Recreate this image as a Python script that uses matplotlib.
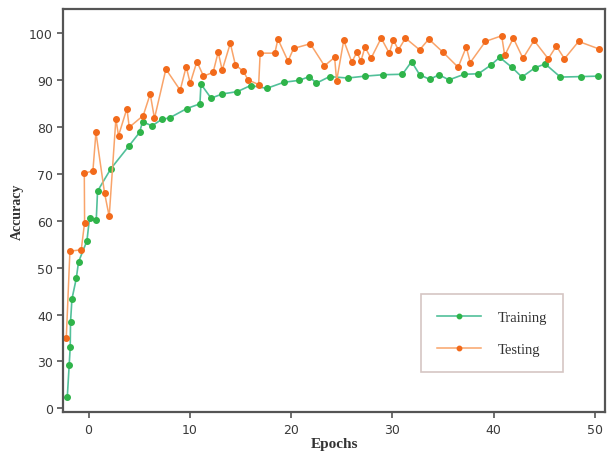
import matplotlib
matplotlib.use("Agg")
import matplotlib.pyplot as plt

# Training accuracy (green)
train_x = [-2.10, -1.91, -1.81, -1.78, -1.64, -1.21, -0.99, -0.16, 0.10, 0.76,
           0.89, 2.21, 4.02, 5.04, 5.33, 6.26, 7.24, 8.0, 9.71, 11.0,
           11.1, 12.1, 13.2, 14.7, 16.0, 17.6, 19.3, 20.8, 21.8, 22.5,
           23.8, 25.6, 27.3, 29.1, 31.0, 31.9, 32.7, 33.7, 34.6, 35.6,
           37.1, 38.5, 39.7, 40.6, 41.8, 42.8, 44.1, 45.1, 46.6, 48.6, 50.3]
train_y = [22.4, 29.3, 33.1, 38.4, 43.3, 47.7, 51.2, 55.7, 60.6, 60.1,
           66.3, 71.1, 76.0, 78.8, 81.1, 80.2, 81.6, 81.9, 83.9, 84.9,
           89.1, 86.1, 87.0, 87.5, 88.8, 88.2, 89.5, 89.9, 90.7, 89.3,
           90.7, 90.4, 90.8, 91.1, 91.2, 93.9, 91.1, 90.1, 91.1, 90.0,
           91.2, 91.3, 93.1, 94.8, 92.7, 90.6, 92.6, 93.4, 90.6, 90.7, 90.8]

# Testing accuracy (orange)
test_x = [-2.20, -1.84, -0.72, -0.39, -0.42, 0.43, 0.73, 1.58, 2.04, 2.70,
          2.96, 3.79, 4.02, 5.40, 6.09, 6.51, 7.64, 9.05, 9.64, 10.04,
          10.7, 11.35, 12.3, 12.8, 13.2, 14.0, 14.5, 15.3, 15.75, 16.8,
          16.95, 18.4, 18.7, 19.7, 20.25, 21.9, 23.3, 24.3, 24.5, 25.2,
          26.0, 26.5, 26.9, 27.3, 27.9, 28.9, 29.7, 30.1, 30.6, 31.3,
          32.7, 33.6, 35.0, 36.5, 37.3, 37.7, 39.2, 40.8, 41.1, 41.95,
          42.9, 44.0, 45.4, 46.2, 47.0, 48.4, 50.4]
test_y = [34.9, 53.5, 53.8, 59.6, 70.1, 70.6, 78.8, 65.9, 60.9, 81.7,
          78.1, 83.9, 79.9, 82.4, 87.0, 81.8, 92.3, 87.8, 92.8, 89.3,
          93.9, 90.8, 91.6, 95.9, 92.1, 97.8, 93.2, 91.8, 90.0, 89.0,
          95.7, 95.7, 98.7, 94.0, 96.7, 97.7, 93.0, 94.8, 89.8, 98.4,
          93.8, 95.9, 94.0, 97.0, 94.6, 98.9, 95.7, 98.5, 96.4, 98.9,
          96.4, 98.7, 95.9, 92.7, 97.0, 93.7, 98.2, 99.4, 95.2, 98.9,
          94.6, 98.4, 94.5, 97.2, 94.5, 98.2, 96.6]

# axis ticks as printed in the figure
x_ticks = [0, 10, 20, 30, 40, 50]
y_ticks = [20, 30, 40, 50, 60, 70, 80, 90, 100]
y_tick_labels = ["0", "30", "40", "50", "60", "70", "80", "90", "100"]

fig = plt.figure(figsize=(6.08, 4.56), dpi=100)
ax = fig.add_axes([0.104, 0.094, 0.891, 0.884])

ax.plot(train_x, train_y, color="#52c09a", linewidth=1.2,
        marker="o", markersize=4, markerfacecolor="#2fb44a",
        markeredgecolor="#2fb44a", label="Training")
ax.plot(test_x, test_y, color="#f9a46a", linewidth=1.1,
        marker="o", markersize=4, markerfacecolor="#f26a1b",
        markeredgecolor="#f26a1b", label="Testing")

ax.set_xlim(-2.5, 51.0)
ax.set_ylim(19.2, 105.1)
ax.set_xticks(x_ticks)
ax.set_yticks(y_ticks)
ax.set_yticklabels(y_tick_labels)

for s in ax.spines.values():
    s.set_color("#555555")
    s.set_linewidth(1.6)
ax.tick_params(direction="out", length=4, width=1.2, color="#555555",
               labelsize=9, labelcolor="#3a3a3a")

ax.set_xlabel("Epochs", family="Liberation Serif", fontsize=11,
              fontweight="bold", color="#333333", labelpad=1)
ax.set_ylabel("Accuracy", family="Liberation Serif", fontsize=10,
              fontweight="bold", color="#333333", labelpad=4)

leg = ax.legend(loc="lower left", bbox_to_anchor=(0.66, 0.10),
                prop={"family": "Liberation Serif", "size": 10.5},
                frameon=True, fancybox=False, borderpad=1.1, labelspacing=1.3,
                handlelength=3.0, handletextpad=1.2, borderaxespad=0,
                markerscale=0.8)
leg.get_frame().set_edgecolor("#cbb8b4")
leg.get_frame().set_linewidth(1.2)
for t in leg.get_texts():
    t.set_color("#333333")

plt.savefig("out.png", dpi=100)
